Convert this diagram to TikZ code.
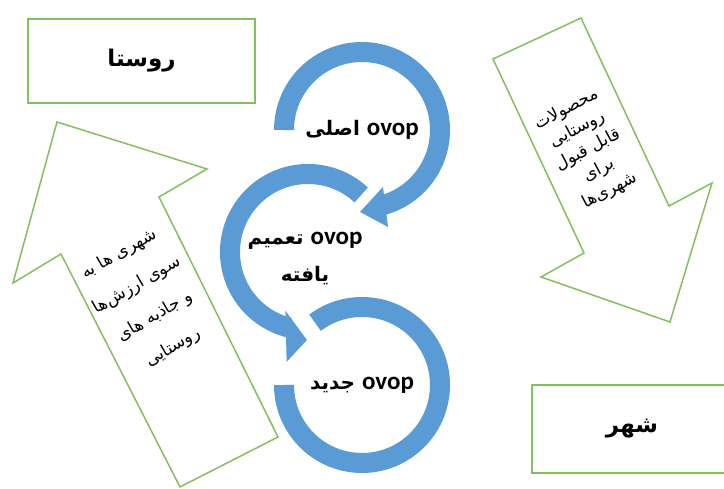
\documentclass[tikz,border=0pt]{standalone}
\usepackage{fontspec}
\setmainfont{Carlito}
\newfontfamily\arabicfont[Script=Arabic]{DejaVu Sans}
\TeXXeTstate=1
\usetikzlibrary{calc}
\definecolor{ringblue}{HTML}{5B9BD5}
\definecolor{boxgreen}{HTML}{84C060}
\newcommand{\ovfont}{\rmfamily\bfseries\fontsize{25}{30}\selectfont}

\begin{document}
\begin{tikzpicture}[x=1pt, y=1pt]

	% Define block styles
	\tikzstyle{block} = [rectangle, draw=boxgreen, line width=2.6pt,
	minimum width=227pt, minimum height=84pt,
	font=\arabicfont\bfseries\fontsize{23}{28}\selectfont]
	\tikzstyle{bigarrow} = [draw=boxgreen, line width=1.5pt, fill=white]
	\tikzstyle{ring} = [draw=ringblue, line width=20pt]
	\tikzstyle{head} = [fill=ringblue]
	\tikzstyle{ringtext} = [align=center, inner sep=0pt,
	font=\arabicfont\bfseries\fontsize{20}{37}\selectfont]
	\tikzstyle{arrowtext} = [align=center, inner sep=0pt]

	\useasboundingbox (0,0) rectangle (724,489);
	\clip (0,0) rectangle (724,489);
	\fill [white] (0,0) rectangle (724,489);

	% Boxes
	\node [block] (village) at (141.5,428) {\beginR روستا\endR};
	\node [block, minimum width=200pt, minimum height=88pt] (city) at (632,60) {\beginR شهر\endR};

	% Big arrows
	\draw [bigarrow] (57,367) -- (207,320) -- (159,292) -- (278,52) -- (180,2)
	-- (61,235) -- (13,206) -- cycle;
	\draw [bigarrow] (493,430) -- (581,471) -- (669,283) -- (712,306) -- (670,167)
	-- (541,212) -- (584,236) -- cycle;

	% Rings
	\coordinate (c1) at (362,359);
	\coordinate (c2) at (308,237);
	\coordinate (c3) at (362,104);
	\begin{scope}[shift={(c3)}]
		\draw [ring] (127:78) arc [start angle=127, end angle=-180, radius=78];
	\end{scope}
	\begin{scope}[shift={(c2)}]
		\draw [ring] (47:78) arc [start angle=47, end angle=256, radius=78];
		\fill [head] (-111:63) -- (-90.7:88) -- (-101:112) -- cycle;
	\end{scope}
	\begin{scope}[shift={(c1)}]
		\draw [ring] (180:78) arc [start angle=180, end angle=-74, radius=78];
		\fill [head] (-69.8:60.7) -- (-91.4:82) -- (-75:100.4) -- cycle;
	\end{scope}

	% Texts
	\node [ringtext] (mainovop) at (c1) {\beginR\beginL{\ovfont ovop}\endL{} اصلی\endR};
	\node [ringtext] (genovop) at (305,231) {\beginR\beginL{\ovfont ovop}\endL{} تعمیم\endR\\ \beginR یافته\endR};
	\node [ringtext] (newovop) at (c3) {\beginR\beginL{\ovfont ovop}\endL{} جدید\endR};

	\node [arrowtext, rotate=30, font=\arabicfont\fontsize{17}{36}\selectfont] (uptext) at (146,188)
	{\beginR شهری ها به\endR\\ \beginR سوی ارزش‌ها\endR\\ \beginR و جاذبه های\endR\\ \beginR روستایی\endR};
	\node [arrowtext, rotate=28, font=\arabicfont\fontsize{17}{23}\selectfont] (downtext) at (588,339)
	{\beginR محصولات\endR\\ \beginR روستایی\endR\\ \beginR قابل قبول\endR\\ \beginR برای\endR\\ \beginR شهری‌ها\endR};
\end{tikzpicture}
\end{document}
